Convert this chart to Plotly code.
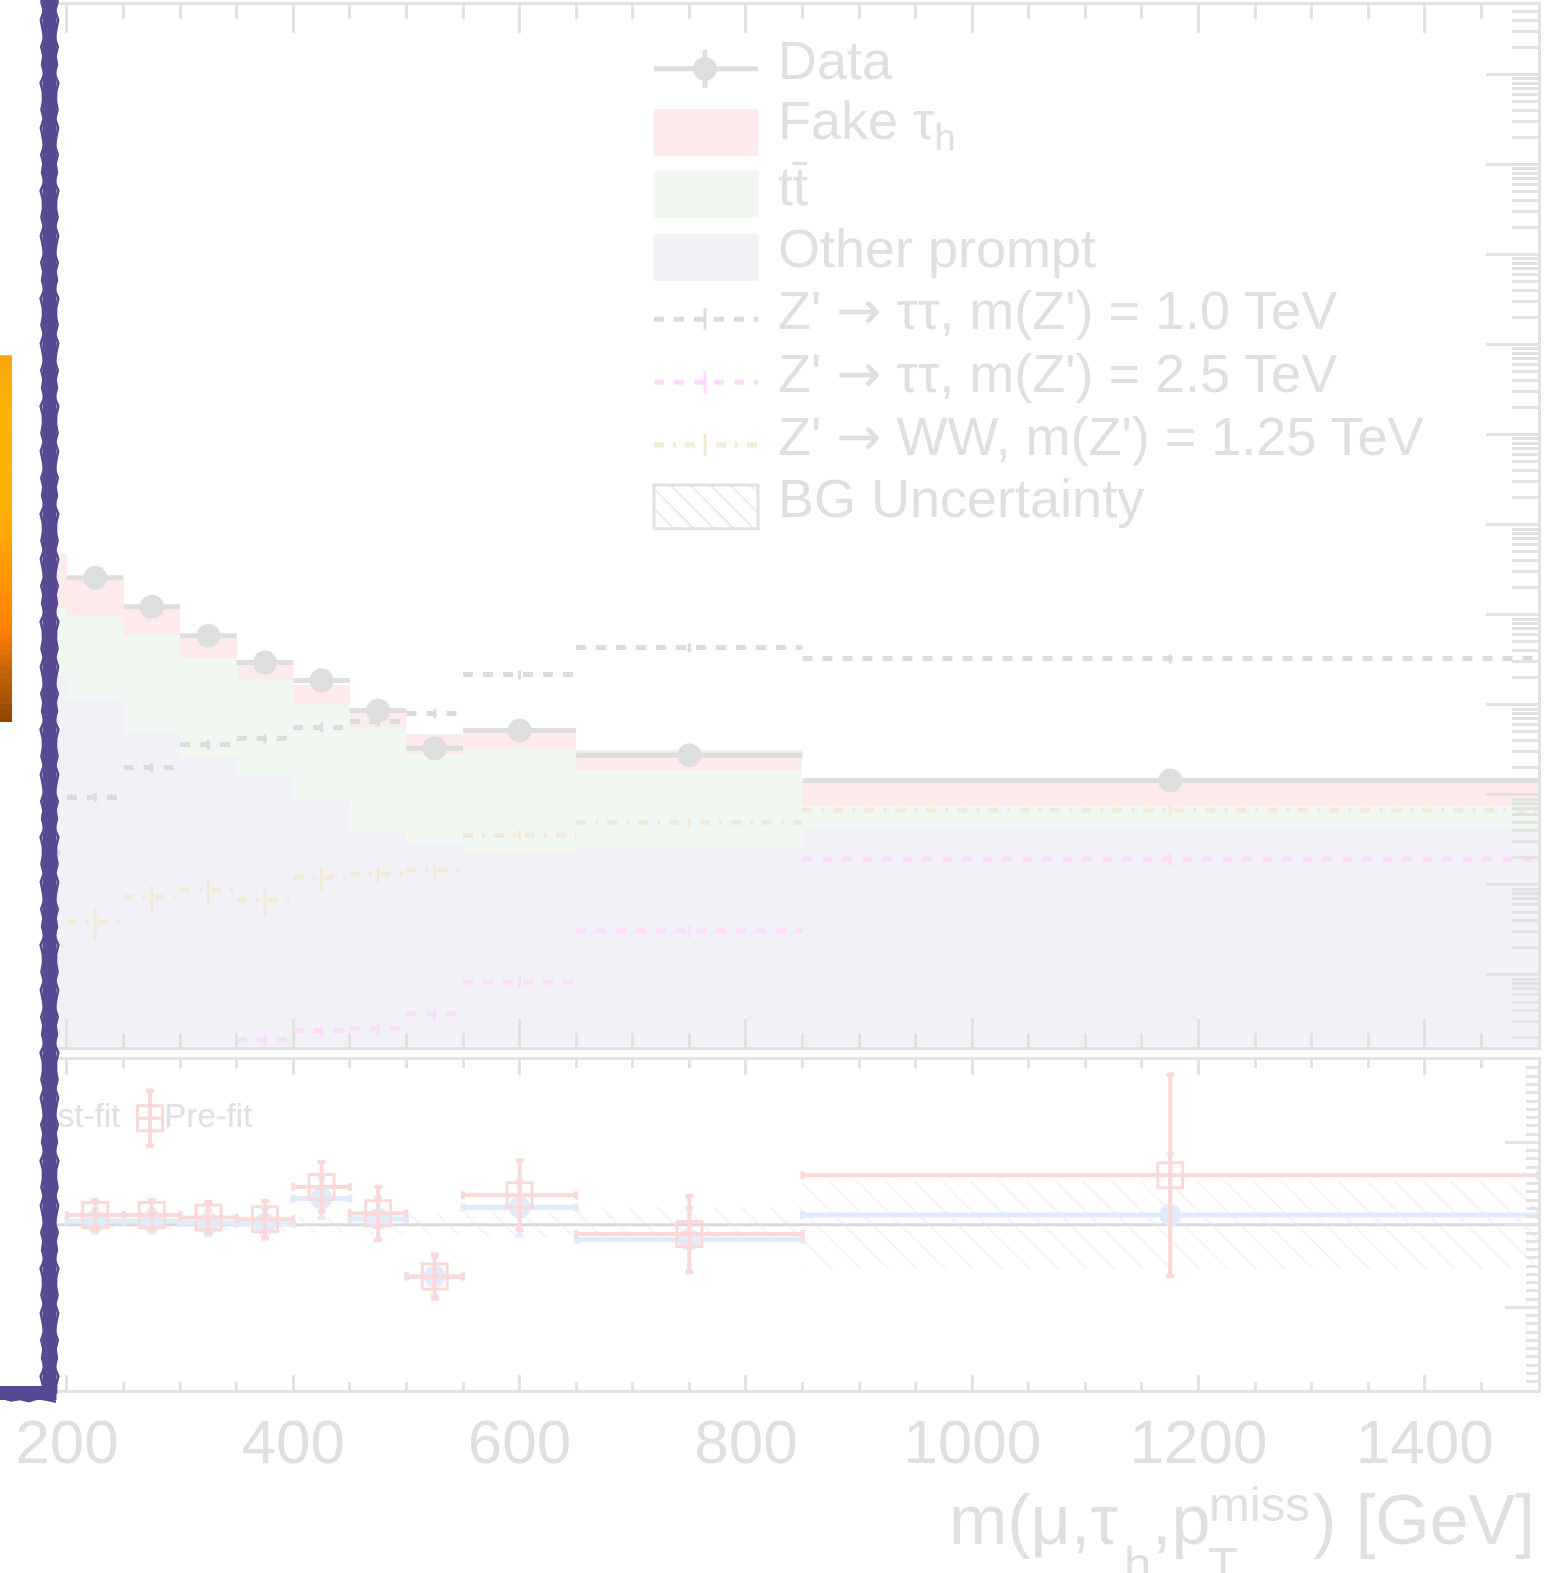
import plotly.graph_objects as go

# ---------------- data ----------------
bin_edges = [150, 200, 250, 300, 350, 400, 450, 500, 550, 650, 850, 1500]

other_prompt = [2.07, 1.12, 0.482, 0.261, 0.165, 0.0849, 0.0375, 0.0298, 0.0226, 0.0250, 0.0427]
ttbar = [9.93, 8.68, 5.55, 3.09, 1.745, 0.975, 0.524, 0.252, 0.298, 0.163, 0.0321]
fake_tau = [35.7, 15.4, 6.27, 2.53, 1.12, 0.62, 0.306, 0.188, 0.226, 0.124, 0.0632]

# observed data, bins 200-250 ... 850-1500
data_obs = [25.8, 12.3, 5.88, 2.95, 1.87, 0.867, 0.329, 0.520, 0.275, 0.145]

zp_tautau_1000 = [0.0226, 0.0940, 0.202, 0.364, 0.424, 0.561, 0.655, 0.803, 2.17, 4.33, 3.27]
zp_tautau_1000_err = [0.003, 0.011, 0.024, 0.044, 0.05, 0.066, 0.077, 0.094, 0.25, 0.5, 0.38]
zp_tautau_2500 = [1.0e-5, 2.0e-5, 4.0e-5, 8.0e-5, 1.90e-4, 2.39e-4, 2.52e-4, 3.70e-4, 8.36e-4, 3.08e-3, 0.0193]
zp_tautau_2500_err = [0, 0, 0, 0, 3.0e-5, 3.6e-5, 3.8e-5, 5.5e-5, 1.3e-4, 4.6e-4, 2.9e-3]
zp_ww_1250 = [0.00215, 0.00387, 0.00733, 0.00875, 0.00678, 0.0122, 0.0132, 0.0146, 0.0356, 0.0497, 0.0675]
zp_ww_1250_err = [0.0007, 0.0015, 0.0025, 0.0028, 0.0023, 0.0035, 0.0025, 0.0028, 0.0045, 0.006, 0.008]

# ratio panel, bins 200-250 ... 850-1500
ratio_prefit = [1.06, 1.06, 1.044, 1.034, 1.23, 1.07, 0.687, 1.18, 0.945, 1.30]
ratio_prefit_err = [0.09, 0.09, 0.095, 0.11, 0.15, 0.16, 0.135, 0.21, 0.23, 0.61]
ratio_postfit = [1.024, 1.024, 1.012, 1.006, 1.16, 1.035, 0.687, 1.105, 0.91, 1.06]
ratio_postfit_err = [0.07, 0.07, 0.075, 0.09, 0.12, 0.13, 0.12, 0.17, 0.19, 0.37]
bg_rel_unc = [0.03, 0.03, 0.03, 0.035, 0.04, 0.05, 0.06, 0.065, 0.075, 0.11, 0.265]

x_tick_vals = [200, 400, 600, 800, 1000, 1200, 1400]
x_tick_text = ["200", "400", "600", "800", "1000", "1200", "1400"]

ARROW = '<span style="font-family:DejaVu Sans">→</span>'
legend_labels = ["Data", "Fake τ<sub>h</sub>", "tt\u0304", "Other prompt",
                 "Z' " + ARROW + " ττ, m(Z') = 1.0 TeV", "Z' " + ARROW + " ττ, m(Z') = 2.5 TeV",
                 "Z' " + ARROW + " WW, m(Z') = 1.25 TeV", "BG Uncertainty"]

# ---------------- derived bin geometry ----------------
lo = bin_edges[:-1]
hi = bin_edges[1:]
centres = [(a + b) / 2 for a, b in zip(lo, hi)]
widths = [b - a for a, b in zip(lo, hi)]
halfw = [w / 2 for w in widths]

# ---------------- styling ----------------
FONT = "Liberation Sans, Arial, Helvetica, sans-serif"
TXT = "#e0e0e0"
AX = "#e2e2e2"
C_DATA = "#dedede"
C_FAKE = "#fdeaea"
C_TT = "#f1f8f1"
C_OTHER = "#f2f1f8"
C_Z1 = "#dcdcdc"
C_Z25 = "#fcdcfc"
C_WW = "#f2ead6"
C_PRE = "#fcd9d9"
C_POST = "#e2ebfb"

W, H = 1558, 1573
ML, MR, MT, MB = 57, 20, 2, 183
PW = W - ML - MR
PH = H - MT - MB


def px_x(p):
    return (p - ML) / PW


def px_y(p):
    return (H - MB - p) / PH


fig = go.Figure()

# ---------------- upper panel: stacked backgrounds ----------------
base_other = [1e-9] * len(other_prompt)
base_tt = list(other_prompt)
base_fake = [o + t for o, t in zip(other_prompt, ttbar)]
for vals, base, col, name in [(other_prompt, base_other, C_OTHER, "Other prompt"),
                              (ttbar, base_tt, C_TT, "tt"),
                              (fake_tau, base_fake, C_FAKE, "Fake tau_h")]:
    fig.add_trace(go.Bar(x=centres, y=vals, base=base, width=widths,
                         marker=dict(color=col, line=dict(width=0)),
                         name=name, showlegend=False, xaxis="x", yaxis="y"))


def seg_xy(vals):
    xs, ys = [], []
    for a, b, v in zip(lo, hi, vals):
        xs += [a, b, None]
        ys += [v, v, None]
    return xs, ys


for vals, errs, col, dash in [(zp_tautau_1000, zp_tautau_1000_err, C_Z1, "10px,10px"),
                              (zp_tautau_2500, zp_tautau_2500_err, C_Z25, "10px,10px"),
                              (zp_ww_1250, zp_ww_1250_err, C_WW, "10px,9px,3px,9px")]:
    xs, ys = seg_xy(vals)
    fig.add_trace(go.Scatter(x=xs, y=ys, mode="lines", line=dict(color=col, width=5, dash=dash),
                             showlegend=False, xaxis="x", yaxis="y", hoverinfo="skip"))
    fig.add_trace(go.Scatter(x=centres, y=vals, mode="markers", marker=dict(size=1, color=col),
                             error_y=dict(type="data", array=errs, color=col, thickness=3, width=0),
                             showlegend=False, xaxis="x", yaxis="y"))

# data points
fig.add_trace(go.Scatter(x=centres[1:], y=data_obs, mode="markers",
                         marker=dict(size=24, color=C_DATA),
                         error_x=dict(type="data", array=halfw[1:], color=C_DATA, thickness=5, width=0),
                         showlegend=False, xaxis="x", yaxis="y"))

# ---------------- lower panel ----------------
fig.add_trace(go.Bar(x=centres, y=[2 * u for u in bg_rel_unc], base=[1 - u for u in bg_rel_unc],
                     width=widths,
                     marker=dict(color="rgba(255,255,255,0)", line=dict(width=0),
                                 pattern=dict(shape="\\", size=20, solidity=0.09,
                                              fgcolor="#e6e6e6", bgcolor="rgba(255,255,255,0)",
                                              fillmode="overlay")),
                     showlegend=False, xaxis="x2", yaxis="y2"))

fig.add_trace(go.Scatter(x=centres[1:], y=ratio_postfit, mode="markers",
                         marker=dict(size=22, color=C_POST, symbol="circle"),
                         error_x=dict(type="data", array=halfw[1:], color=C_POST, thickness=5, width=4),
                         error_y=dict(type="data", array=ratio_postfit_err, color=C_POST, thickness=4, width=4),
                         showlegend=False, xaxis="x2", yaxis="y2"))
fig.add_trace(go.Scatter(x=centres[1:], y=ratio_prefit, mode="markers",
                         marker=dict(size=25, color=C_PRE, symbol="square-open", line=dict(width=3, color=C_PRE)),
                         error_x=dict(type="data", array=halfw[1:], color=C_PRE, thickness=4, width=4),
                         error_y=dict(type="data", array=ratio_prefit_err, color=C_PRE, thickness=4, width=4),
                         showlegend=False, xaxis="x2", yaxis="y2"))

# lower legend (Post-fit / Pre-fit), clipped at the plot edge like the reference
LEG2_Y = 1.645
fig.add_trace(go.Scatter(x=[160], y=[LEG2_Y], mode="markers",
                         marker=dict(size=22, color=C_POST),
                         error_y=dict(type="constant", value=0.16, color=C_POST, thickness=4, width=4),
                         showlegend=False, xaxis="x2", yaxis="y2"))
fig.add_trace(go.Scatter(x=[247], y=[LEG2_Y], mode="text", text=["Post-fit"], textposition="middle left",
                         textfont=dict(size=33, color=TXT, family=FONT),
                         showlegend=False, xaxis="x2", yaxis="y2"))
fig.add_trace(go.Scatter(x=[273.4], y=[LEG2_Y], mode="markers",
                         marker=dict(size=25, color=C_PRE, symbol="square-open", line=dict(width=3, color=C_PRE)),
                         error_y=dict(type="constant", value=0.167, color=C_PRE, thickness=4, width=4),
                         error_x=dict(type="constant", value=11, color=C_PRE, thickness=3, width=0),
                         showlegend=False, xaxis="x2", yaxis="y2"))
fig.add_trace(go.Scatter(x=[286], y=[LEG2_Y], mode="text", text=["Pre-fit"], textposition="middle right",
                         textfont=dict(size=33, color=TXT, family=FONT),
                         showlegend=False, xaxis="x2", yaxis="y2"))

# ---------------- shapes & annotations ----------------
shapes = []
annotations = []

# ratio = 1 line
shapes.append(dict(type="line", xref="x2 domain", yref="y2", x0=0, x1=1, y0=1, y1=1,
                   line=dict(color="#dadada", width=3), layer="below"))


def line_px(x0, y0, x1, y1, color, width, dash="solid", layer="above"):
    return dict(type="line", xref="paper", yref="paper",
                x0=px_x(x0), x1=px_x(x1), y0=px_y(y0), y1=px_y(y1),
                line=dict(color=color, width=width, dash=dash), layer=layer)


def rect_px(x0, y0, x1, y1, fill, line_color=None, lw=0, layer="above"):
    return dict(type="rect", xref="paper", yref="paper",
                x0=px_x(x0), x1=px_x(x1), y0=px_y(y1), y1=px_y(y0),
                fillcolor=fill, line=dict(color=line_color or fill, width=lw), layer=layer)


def text_px(x, y, txt, size, xanchor="left"):
    return dict(xref="paper", yref="paper", x=px_x(x), y=px_y(y), xanchor=xanchor, yanchor="middle",
                showarrow=False, text=txt, font=dict(size=size, color=TXT, family=FONT))


# legend (upper panel)
LX0, LX1, LXM, LTX = 654, 758, 705, 776
row_y = [66, 130, 192, 255, 317, 380, 443, 505]
# Data
shapes.append(line_px(LX0, row_y[0], LX1, row_y[0], C_DATA, 5))
shapes.append(line_px(LXM, row_y[0] - 19, LXM, row_y[0] + 19, C_DATA, 5))
shapes.append(dict(type="circle", xref="paper", yref="paper",
                   x0=px_x(LXM - 12), x1=px_x(LXM + 12), y0=px_y(row_y[0] + 12), y1=px_y(row_y[0] - 12),
                   fillcolor=C_DATA, line=dict(width=0), layer="above"))
# boxes
for i, col in [(1, C_FAKE), (2, C_TT), (3, C_OTHER)]:
    shapes.append(rect_px(LX0, row_y[i] - 23, LX1, row_y[i] + 23, col, col, 1))
# signal lines
for i, col, dash in [(4, C_Z1, "10px,10px"), (5, C_Z25, "10px,10px"), (6, C_WW, "10px,9px,3px,9px")]:
    shapes.append(line_px(LX0, row_y[i], LX1, row_y[i], col, 5, dash))
    shapes.append(line_px(LXM, row_y[i] - 11, LXM, row_y[i] + 11, col, 3))
# BG uncertainty box with hatching
by0, by1 = row_y[7] - 22, row_y[7] + 22
bh = by1 - by0
x0 = LX0 - bh
while x0 < LX1:
    t0 = max(0, LX0 - x0)
    t1 = min(bh, LX1 - x0)
    if t1 > t0:
        shapes.append(line_px(x0 + t0, by0 + t0, x0 + t1, by0 + t1, "#e6e6e6", 1.5))
    x0 += 20
shapes.append(dict(type="rect", xref="paper", yref="paper",
                   x0=px_x(LX0), x1=px_x(LX1), y0=px_y(by1), y1=px_y(by0),
                   fillcolor="rgba(0,0,0,0)", line=dict(color=AX, width=3), layer="above"))

for i, lab in enumerate(legend_labels):
    annotations.append(text_px(LTX, row_y[i] - 9, lab, 54))

# x-axis title, built from pieces so that the stacked sub/superscripts sit like ROOT's
annotations.append(text_px(1120, 1520, "m(μ,τ", 70, "right"))
annotations.append(text_px(1122, 1564, "h", 49))
annotations.append(text_px(1150, 1520, ",p", 70))
annotations.append(text_px(1207, 1504, "miss", 49))
annotations.append(text_px(1206, 1564, "T", 49))
annotations.append(text_px(1537, 1520, ") [GeV]", 70, "right"))

# orange strip at far left (gradient)
stops = [(0.0, (250, 165, 15)), (0.15, (255, 178, 0)), (0.42, (255, 176, 0)), (0.6, (255, 150, 0)),
         (0.75, (255, 128, 0)), (0.86, (200, 100, 10)), (1.0, (140, 70, 0))]
OY0, OY1, NB = 353, 720, 60
for k in range(NB):
    t = (k + 0.5) / NB
    for j in range(len(stops) - 1):
        if stops[j][0] <= t <= stops[j + 1][0]:
            f = (t - stops[j][0]) / (stops[j + 1][0] - stops[j][0])
            c = [round(stops[j][1][m] + f * (stops[j + 1][1][m] - stops[j][1][m])) for m in range(3)]
            break
    ya = OY0 + (OY1 - OY0) * k / NB
    yb = OY0 + (OY1 - OY0) * (k + 1) / NB + 0.6
    shapes.append(rect_px(0, ya, 12, yb, "rgb(%d,%d,%d)" % tuple(c)))

# purple hand-drawn stroke (core + ragged edges)
PURPLE = "#574a92"
shapes.append(dict(type="path", xref="paper", yref="paper",
                   path="M %f %f L %f %f L %f %f" % (px_x(49.5), px_y(-10), px_x(49.5), px_y(1393),
                                                      px_x(-10), px_y(1393)),
                   line=dict(color=PURPLE, width=14), layer="above"))
edge_offsets = [0.0, 1.6, -0.8, 2.2, 0.4, -1.2, 1.8, -0.4, 1.0, -1.6, 2.4, 0.2]
for side in (-1, 1):
    pts = []
    yy = -10
    k = 0
    while yy < 1396:
        pts.append((49.5 + side * (6.5 + edge_offsets[k % len(edge_offsets)]), yy))
        yy += 9
        k += 1
    path = "M " + " L ".join("%f %f" % (px_x(a), px_y(b)) for a, b in pts)
    shapes.append(dict(type="path", xref="paper", yref="paper", path=path,
                       line=dict(color=PURPLE, width=2.5), layer="above"))
pts = []
xx = 56
k = 0
while xx > -10:
    pts.append((xx, 1393 + 6.5 + edge_offsets[(k + 3) % len(edge_offsets)]))
    xx -= 9
    k += 1
shapes.append(dict(type="path", xref="paper", yref="paper",
                   path="M " + " L ".join("%f %f" % (px_x(a), px_y(b)) for a, b in pts),
                   line=dict(color=PURPLE, width=2.5), layer="above"))

x_common = dict(showline=True, linecolor=AX, linewidth=3, mirror="ticks", ticks="inside",
                tickcolor=AX, tickwidth=3, showgrid=False, zeroline=False)
y_common = dict(showline=True, linecolor=AX, linewidth=3, mirror=True, ticks="inside", side="right",
                tickcolor=AX, tickwidth=3, showgrid=False, zeroline=False)

fig.update_layout(
    width=W, height=H, margin=dict(l=ML, r=MR, t=MT, b=MB, pad=0),
    paper_bgcolor="white", plot_bgcolor="white", barmode="overlay", bargap=0,
    showlegend=False,
    xaxis=dict(domain=[0, 1], anchor="y", range=[191.2, 1500], tick0=200, dtick=200, ticklen=28,
               showticklabels=False, minor=dict(dtick=50, ticklen=14, ticks="inside", tickcolor=AX, tickwidth=3),
               **x_common),
    yaxis=dict(domain=[px_y(1046), 1], anchor="x", type="log", range=[-3.798, 7.776], dtick=1, ticklen=52,
               showticklabels=False, minor=dict(dtick="D1", ticklen=26, ticks="inside", tickcolor=AX, tickwidth=3),
               **y_common),
    xaxis2=dict(domain=[0, 1], anchor="y2", range=[191.2, 1500], tickmode="array", tickvals=x_tick_vals,
                ticktext=x_tick_text, ticklen=15, ticklabelstandoff=-4,
                tickfont=dict(size=62, color=TXT, family=FONT),
                minor=dict(dtick=50, tick0=200, ticklen=8, ticks="inside", tickcolor=AX, tickwidth=3),
                **x_common),
    yaxis2=dict(domain=[0, px_y(1059)], anchor="x2", range=[0, 2], dtick=0.5, ticklen=33,
                showticklabels=False, minor=dict(dtick=0.05, ticklen=12, ticks="inside", tickcolor=AX, tickwidth=3),
                **y_common),
    shapes=shapes, annotations=annotations,
)

fig.write_html("out.html", config={"displayModeBar": False},
               post_script="document.body.style.margin='0';")
